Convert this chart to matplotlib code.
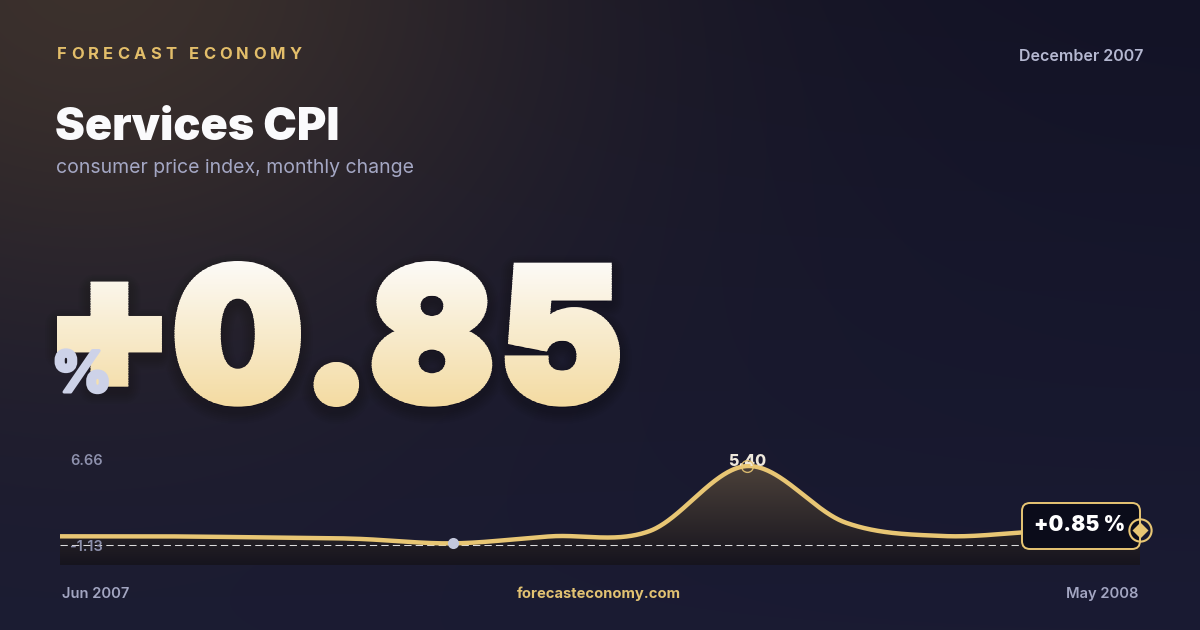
import numpy as np
import matplotlib
matplotlib.use("Agg")
import matplotlib.pyplot as plt
from matplotlib.font_manager import FontProperties
from matplotlib.textpath import TextPath
from matplotlib.path import Path
from matplotlib.patches import PathPatch, FancyBboxPatch, Rectangle
from matplotlib.transforms import Affine2D, IdentityTransform
import matplotlib.patheffects as pe

# ---------------- data ----------------
months = ["Jun 2007", "Jul 2007", "Aug 2007", "Sep 2007", "Oct 2007", "Nov 2007",
          "Dec 2007", "Jan 2008", "Feb 2008", "Mar 2008", "Apr 2008", "May 2008"]
cpi_change = [0.40, 0.40, 0.33, 0.23, -0.10, 0.40, 0.76, 5.40, 1.38, 0.42, 0.75, 0.85]
axis_top_label = "6.66"
axis_bottom_label = "-1.13"
unit = "%"
brand = "FORECAST ECONOMY"
title = "Services CPI"
subtitle = "consumer price index, monthly change"
as_of = "December 2007"
site = "forecasteconomy.com"

# ---------------- style ----------------
W, H = 1200, 630
GOLD = "#E8C674"
FAM = ["Inter", "DejaVu Sans"]

fig = plt.figure(figsize=(W / 100, H / 100), dpi=100)
bg = fig.add_axes([0, 0, 1, 1])
bg.axis("off")

# background: navy with warm glow top-left
yy, xx = np.mgrid[0:H, 0:W].astype(float)
top = np.array([19, 19, 38]) / 255
bot = np.array([26, 27, 51]) / 255
t = (yy / H)[..., None]
base = top * (1 - t) + bot * t
warm = np.array([64, 52, 45]) / 255
w = 0.9 * np.exp(-(((xx - 90) / 340) ** 2 + ((yy + 30) / 270) ** 2) / 2)[..., None]
img = base * (1 - w) + warm * w
bg.imshow(img, extent=[0, W, H, 0], aspect="auto", zorder=0)

# ---------------- header ----------------
renderer = fig.canvas.get_renderer()
bprop = FontProperties(family=FAM, weight="bold", size=11.9)
def tw(s):
    return renderer.get_text_width_height_descent(s, bprop, ismath=False)[0]
natural = tw(brand)
spacing = (245 - natural) / (len(brand) - 1)
x0 = 57
for i, ch in enumerate(brand):
    if ch == " ":
        continue
    xpos = x0 + tw(brand[: i + 1]) - tw(ch) + i * spacing
    bg.text(xpos, 59.3, ch, fontproperties=bprop, color="#E3BE6A", ha="left", va="baseline", zorder=5)

bg.text(1143, 60.7, as_of, family=FAM, fontsize=11.5, fontweight=600, color="#B5B8D1",
        ha="right", va="baseline", zorder=5)
bg.text(55, 140, title, family=FAM, fontsize=32.4, fontweight=900, color="#FAFAFC",
        ha="left", va="baseline", zorder=5)
bg.text(56, 173.3, subtitle, family=FAM, fontsize=14, color="#A4A7C4",
        ha="left", va="baseline", zorder=5)

# ---------------- big number ----------------
vals = np.asarray(cpi_change, float)
headline = f"{vals[-1]:+.2f}"
hprop = FontProperties(family="Inter", weight=900)
SW = 8.5                      # emboldening stroke (px)
X0, X1, YT, YB = 57, 620, 261, 407
glyphs = [TextPath((0, 0), ch, size=100, prop=hprop) for ch in headline]
exts = [g.get_extents() for g in glyphs]
ymin = min(e.y0 for e in exts)
ymax = max(e.y1 for e in exts)
digit_mid = np.mean([(e.y0 + e.y1) / 2 for ch, e in zip(headline, exts) if ch.isdigit()])
k = (YB - YT - SW) / (ymax - ymin)
widths = [e.width * k + SW for e in exts]
gap = ((X1 - X0) - sum(widths)) / (len(glyphs) - 1)
cursor = X0
placed = []
for ch, g, e, wd in zip(headline, glyphs, exts, widths):
    dy = (digit_mid - (e.y0 + e.y1) / 2) if ch in "+-" else 0.0
    tr = (Affine2D().translate(-e.x0, -ymin + dy).scale(k, -k)
          .translate(cursor + SW / 2, YB - SW / 2))
    placed.append(tr.transform_path(g))
    cursor += wd + gap
path = Path.make_compound_path(*placed)

shadow = Affine2D().translate(0, 5).transform_path(path)
for j in range(6):
    bg.add_patch(PathPatch(shadow, fc=(0, 0, 0, 0.028), ec=(0, 0, 0, 0.028),
                           lw=(SW + 4 + 4 * j) * 0.72, joinstyle="round",
                           transform=bg.transData, zorder=2))
gtop = np.array([252, 251, 248]) / 255
gbot = np.array([243, 218, 160]) / 255
NB = 90
bh = (YB - YT + 4) / NB
for i in range(NB):
    yb0 = YT - 2 + i * bh
    frac = (i + 0.5) / NB
    col = gtop * (1 - frac) + gbot * frac
    band = Rectangle((X0 - 10, yb0 - 0.3), X1 - X0 + 20, bh + 0.6, transform=bg.transData)
    pp = PathPatch(path, fc=col, ec=col, lw=SW * 0.72, joinstyle="miter",
                   transform=bg.transData, zorder=3)
    bg.add_patch(pp)
    pp.set_clip_path(band)
bg.text(52, 392, unit, family=FAM, fontsize=41, fontweight=900, color="#CDD2E8",
        ha="left", va="baseline", zorder=6,
        path_effects=[pe.withStroke(linewidth=2.2, foreground="#CDD2E8")])

bg.set_xlim(0, W)
bg.set_ylim(H, 0)

# ---------------- chart ----------------
ax = fig.add_axes([60 / W, 65 / H, 1080 / W, 115 / H])
ax.axis("off")
ax.patch.set_alpha(0)
YLO, YHI = -1.64, 6.54
x = np.arange(len(vals), dtype=float)

def catmull_rom(x, y, n=100):
    xs, ys = [], []
    m = len(x)
    for kk in range(m - 1):
        y0 = y[kk - 1] if kk > 0 else y[kk]
        y3 = y[kk + 2] if kk + 2 < m else y[kk + 1]
        t0 = (y[kk + 1] - y0) / 2
        t1 = (y3 - y[kk]) / 2
        u = np.linspace(0, 1, n, endpoint=(kk == m - 2))
        h00 = 2 * u**3 - 3 * u**2 + 1
        h10 = u**3 - 2 * u**2 + u
        h01 = -2 * u**3 + 3 * u**2
        h11 = u**3 - u**2
        xs.append(x[kk] + u * (x[kk + 1] - x[kk]))
        ys.append(h00 * y[kk] + h10 * t0 + h01 * y[kk + 1] + h11 * t1)
    return np.concatenate(xs), np.concatenate(ys)

xs, ys = catmull_rom(x, vals)
poly = ax.fill_between(xs, ys, YLO, color="none", lw=0)
ctop = np.array([84, 72, 62]) / 255
cbot = np.array([22, 20, 30]) / 255
gg = np.linspace(0, 1, 256)[:, None, None]
cgrad = ctop * (1 - gg) + cbot * gg
cim = ax.imshow(cgrad, extent=[x[0], x[-1], YLO, YHI], aspect="auto", zorder=1)
cim.set_clip_path(poly.get_paths()[0], transform=ax.transData)

imin = int(np.argmin(vals))
imax = int(np.argmax(vals))
ax.axhline(vals[imin] - 0.12, color="white", lw=0.75, ls=(0, (7, 4)), alpha=0.85, zorder=2)
ax.plot(xs, ys, color=GOLD, lw=3.2, solid_capstyle="round", zorder=3)
ax.plot(x[imin], vals[imin], "o", ms=8, color="#C3C7DC", mec="none", zorder=4)
ax.annotate(f"{vals[imax]:.2f}", xy=(x[imax], vals[imax]), xytext=(0, 3), textcoords="offset points",
            ha="center", va="center", family=FAM, fontsize=11.5, fontweight=800,
            color="#EEE8DC", zorder=5)
ax.plot(x[imax], vals[imax], "o", ms=8.5, mfc="none", mec=GOLD, mew=1.0, alpha=0.9, zorder=6)

px, py = ax.transData.transform((x[-1], vals[-1]))
ax.add_patch(FancyBboxPatch((px - 118, py - 19), 118, 46, boxstyle="round,pad=0,rounding_size=8",
                            fc="#0B0C1A", ec=GOLD, lw=1.4, transform=IdentityTransform(),
                            zorder=7, clip_on=False))
ax.text(px - 60, py - 1, f"{vals[-1]:+.2f} {unit}", transform=IdentityTransform(), family=FAM,
        fontsize=15, fontweight=900, color="white", ha="center", va="baseline", zorder=8,
        clip_on=False)
ax.plot(x[-1], vals[-1], "o", ms=16, mfc="none", mec=GOLD, mew=1.5, zorder=9, clip_on=False)
ax.plot(x[-1], vals[-1], "D", ms=8, color=GOLD, mec="none", zorder=9, clip_on=False)

ax.text(70, 461, axis_top_label, transform=bg.transData, family=FAM, fontsize=10.5, fontweight=600,
        color="#8D90AC", ha="left", va="center", zorder=10, clip_on=False)
ax.text(70, 547, axis_bottom_label, transform=bg.transData, family=FAM, fontsize=10.5, fontweight=600,
        color="#8D90AC", ha="left", va="center", zorder=10, clip_on=False)
ax.set_xlim(x[0], x[-1])
ax.set_ylim(YLO, YHI)

# ---------------- footer ----------------
bg.text(62, 598, months[0], family=FAM, fontsize=10.6, fontweight=600, color="#A3A6C2",
        ha="left", va="baseline", zorder=5)
bg.text(1138, 598, months[-1], family=FAM, fontsize=10.6, fontweight=600, color="#A3A6C2",
        ha="right", va="baseline", zorder=5)
bg.text(599, 598, site, family=FAM, fontsize=10.6, fontweight="bold", color="#E2C272",
        ha="center", va="baseline", zorder=5)

fig.savefig("out.png", dpi=100)
